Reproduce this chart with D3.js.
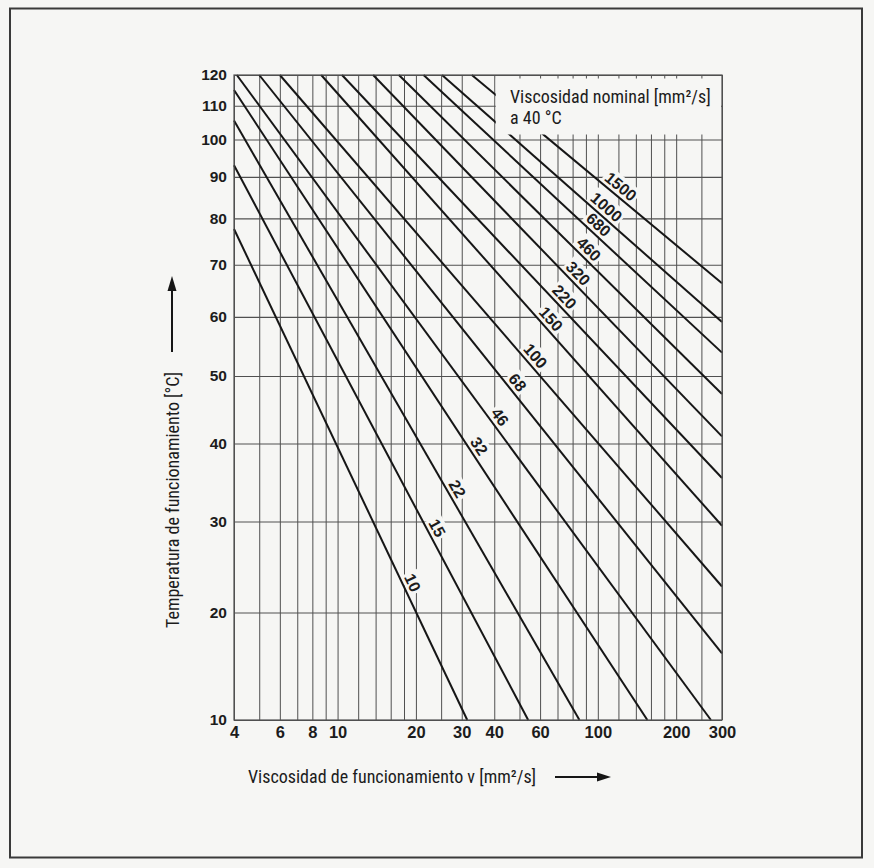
<!DOCTYPE html>
<html>
<head>
<meta charset="utf-8">
<script src="https://cdn.jsdelivr.net/npm/d3@7"></script>
<style>
  html, body { margin: 0; padding: 0; background: #f6f6f4; }
  svg { display: block; }
  .num { font-family: "Liberation Sans", Arial, sans-serif; font-weight: bold; fill: #1c1c1c; }
  .cond { font-family: "Liberation Sans Narrow", "Roboto Condensed", "DejaVu Sans Condensed", sans-serif; fill: #1c1c1c; }
</style>
</head>
<body>
<svg id="chart" width="874" height="868"></svg>
<script>
// nominal viscosity classes (mm²/s at 40 °C)
const nominal = [10, 15, 22, 32, 46, 68, 100, 150, 220, 320, 460, 680, 1000, 1500];

// both ends of every line (viscosity mm²/s, temperature °C)
const startVisc = [4, 4, 4, 4, 4.1, 5.0, 6.0, 8.65, 10.4, 13.7, 17.2, 21.4, 25.2, 32.8];
const startTemp = [77.6, 93, 105.5, 115, 120, 120, 120, 120, 120, 120, 120, 120, 120, 120];
const endVisc = [31.5, 54, 85, 155, 272, 300, 300, 300, 300, 300, 300, 300, 300, 300];
const endTemp = [10, 10, 10, 10, 10, 16, 22.7, 29.5, 35.4, 41, 47.2, 53.8, 59.1, 66.3];

// viscosity along each line where its class number is written
const labelVisc = [18, 22.4, 26.8, 32.6, 39.3, 46, 54, 62, 70, 79, 87, 95, 102, 116];

// grid and tick labels
const viscGrid = [4, 5, 6, 7, 8, 9, 10, 12, 14, 16, 18, 20, 25, 30, 40, 50, 60, 70, 80, 90,
                  100, 120, 140, 160, 180, 200, 250, 300];
const viscTicks = [4, 6, 8, 10, 20, 30, 40, 60, 100, 200, 300];
const tempTicks = [10, 20, 30, 40, 50, 60, 70, 80, 90, 100, 110, 120];

// temperature scale is linear in 1/(T + C)  (Vogel type chart)
const VOGEL_C = 100;

const W = 874, H = 868;
const plot = { left: 234, right: 722, top: 75, bottom: 720 };
const PAPER = '#f6f6f4';
const GRID = '#505050';
const INK = '#161616';

const svg = d3.select('#chart');

svg.append('rect').attr('width', W).attr('height', H).attr('fill', PAPER);
svg.append('rect')
  .attr('x', 10).attr('y', 8.5)
  .attr('width', 852).attr('height', 849)
  .attr('fill', 'none')
  .attr('stroke', '#3a3a3a')
  .attr('stroke-width', 2);

const x = d3.scaleLog().domain([4, 300]).range([plot.left, plot.right]);
const yScale = d3.scalePow().exponent(-1)
  .domain([10 + VOGEL_C, 120 + VOGEL_C])
  .range([plot.bottom, plot.top]);
const y = t => yScale(t + VOGEL_C);

// vertical grid + viscosity ticks
svg.append('g')
  .attr('transform', `translate(0,${plot.bottom})`)
  .call(d3.axisBottom(x)
    .tickValues(viscGrid)
    .tickSize(-(plot.bottom - plot.top))
    .tickPadding(6)
    .tickFormat(d => viscTicks.includes(d) ? d : ''))
  .call(g => g.select('.domain').remove())
  .call(g => g.selectAll('.tick line').attr('stroke', GRID).attr('stroke-width', 1))
  .call(g => g.selectAll('.tick text').attr('class', 'num').style('font-size', '16.5px'));

// horizontal grid + temperature ticks
svg.append('g')
  .attr('transform', `translate(${plot.left},0)`)
  .call(d3.axisLeft(yScale)
    .tickValues(tempTicks.map(t => t + VOGEL_C))
    .tickSize(-(plot.right - plot.left))
    .tickPadding(7)
    .tickFormat(d => Math.round(d - VOGEL_C)))
  .call(g => g.select('.domain').remove())
  .call(g => g.selectAll('.tick line').attr('stroke', GRID).attr('stroke-width', 1.1))
  .call(g => g.selectAll('.tick text').attr('class', 'num').style('font-size', '15.5px'));

const maskLayer = svg.append('g');
const lineLayer = svg.append('g');
const legendLayer = svg.append('g');
const textLayer = svg.append('g');

const line = d3.line().x(d => x(d[0])).y(d => y(d[1]));

nominal.forEach((n, i) => {
  const pts = [[startVisc[i], startTemp[i]], [endVisc[i], endTemp[i]]];
  lineLayer.append('path')
    .attr('d', line(pts))
    .attr('fill', 'none')
    .attr('stroke', INK)
    .attr('stroke-width', 2);

  // class number sits on top of its line, turned along it
  const x1 = x(pts[0][0]), y1 = y(pts[0][1]);
  const x2 = x(pts[1][0]), y2 = y(pts[1][1]);
  const angle = Math.atan2(y2 - y1, x2 - x1) * 180 / Math.PI;
  const lx = x(labelVisc[i]);
  const ly = y1 + (lx - x1) / (x2 - x1) * (y2 - y1);
  const tf = `translate(${lx},${ly}) rotate(${angle})`;

  const txt = textLayer.append('text')
    .attr('class', 'num')
    .attr('transform', tf)
    .attr('y', -4)
    .attr('text-anchor', 'middle')
    .style('font-size', '16px')
    .text(n);
  const bb = txt.node().getBBox();
  maskLayer.append('rect')
    .attr('transform', tf)
    .attr('x', bb.x - 2).attr('y', bb.y - 1)
    .attr('width', bb.width + 4).attr('height', bb.height + 1)
    .attr('fill', PAPER);
});

// legend box knocks out the grid in the upper right corner
legendLayer.append('rect')
  .attr('x', x(40) + 1.5)
  .attr('y', plot.top + 3.5)
  .attr('width', plot.right - x(40) - 2.5)
  .attr('height', y(100) - 5 - (plot.top + 3.5))
  .attr('fill', PAPER);

legendLayer.append('rect')
  .attr('x', plot.left).attr('y', plot.top)
  .attr('width', plot.right - plot.left)
  .attr('height', plot.bottom - plot.top)
  .attr('fill', 'none')
  .attr('stroke', GRID)
  .attr('stroke-width', 1.2);

const legend = textLayer.append('text')
  .attr('class', 'cond')
  .style('font-size', '18px');
legend.append('tspan').attr('x', 510).attr('y', 103).text('Viscosidad nominal [mm²/s]');
legend.append('tspan').attr('x', 510).attr('y', 124).text('a 40 °C');

// axis titles with arrows
textLayer.append('text')
  .attr('class', 'cond')
  .attr('x', 248).attr('y', 783)
  .style('font-size', '18px')
  .text('Viscosidad de funcionamiento ν [mm²/s]');

textLayer.append('line')
  .attr('x1', 555).attr('x2', 600)
  .attr('y1', 777).attr('y2', 777)
  .attr('stroke', INK).attr('stroke-width', 2);
textLayer.append('path')
  .attr('d', 'M597,772.5 L611,777 L597,781.5 Z')
  .attr('fill', INK);

textLayer.append('text')
  .attr('class', 'cond')
  .attr('transform', 'translate(179,628) rotate(-90)')
  .style('font-size', '18px')
  .text('Temperatura de funcionamiento [°C]');

textLayer.append('line')
  .attr('x1', 172).attr('x2', 172)
  .attr('y1', 352).attr('y2', 288)
  .attr('stroke', INK).attr('stroke-width', 2);
textLayer.append('path')
  .attr('d', 'M167.5,291 L172,276 L176.5,291 Z')
  .attr('fill', INK);
</script>
</body>
</html>
